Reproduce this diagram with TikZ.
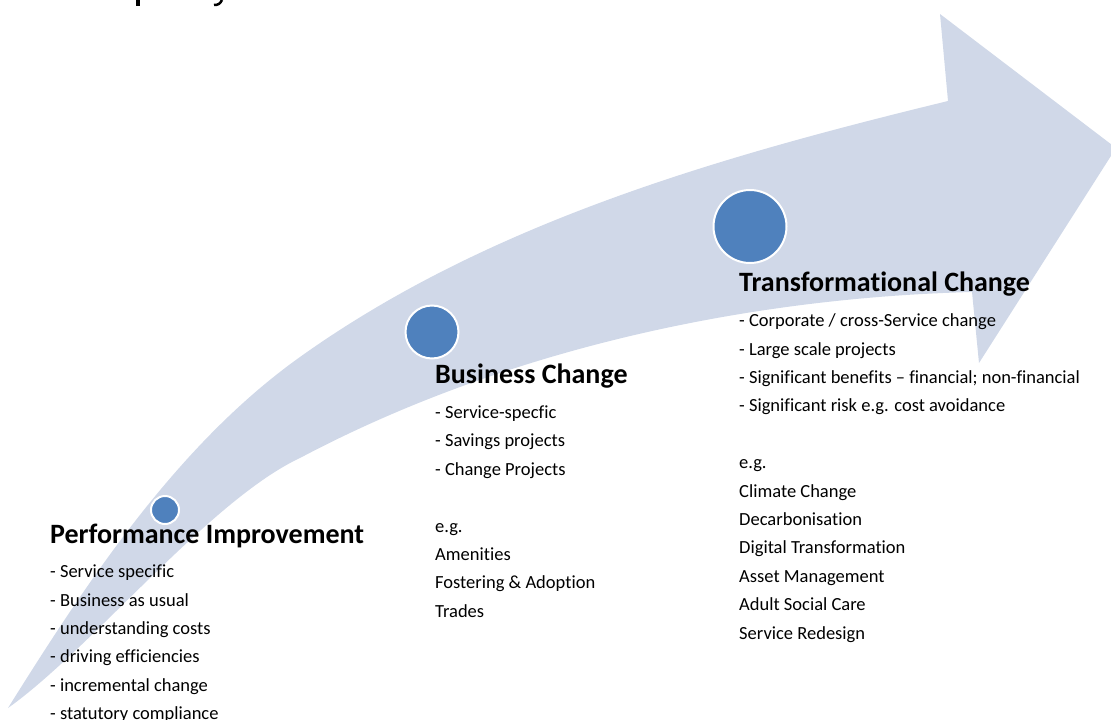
\documentclass[tikz,border=0pt]{standalone}
\usepackage{fontspec}
\setmainfont{Carlito}[Ligatures=NoCommon]
\definecolor{arrowfill}{HTML}{D0D8E8}
\definecolor{dotblue}{HTML}{4F81BD}
\tikzset{
  headtext/.style={anchor=base west, inner sep=0pt, font=\fontsize{28}{32}\selectfont\bfseries},
  bodytext/.style={anchor=base west, inner sep=0pt, font=\fontsize{18.5}{22}\selectfont},
  dot/.style={circle, fill=dotblue, draw=white, line width=2pt, inner sep=0pt},
}
\begin{document}
\begin{tikzpicture}[x=1pt, y=-1pt]
\useasboundingbox (0,0) rectangle (1111,720);
\begin{scope}
\clip (0,0) rectangle (1111,720);
% curved arrow
\fill[arrowfill] (8,708)
  .. controls (88,580) and (178,444) .. (300,357)
  .. controls (489,222) and (722,156) .. (948,101)
  -- (940,14) -- (1116,148) -- (979,363) -- (972,292)
  .. controls (740,298) and (500,352) .. (300,458)
  .. controls (210,500) and (90,650) .. (8,708) -- cycle;
% clipped title fragments at the top
\fill[black] (136,0) rectangle (139.5,6);
\draw[black, line width=2.5pt] (222,0) .. controls (220,4) and (218,5) .. (214,5);
\end{scope}

% dots
\node[dot, minimum size=28pt] (c1) at (165,510) {};
\node[dot, minimum size=53pt] (c2) at (432,332) {};
\node[dot, minimum size=73pt] (c3) at (750,226.5) {};

% Performance Improvement
\node[headtext] (pih) at (50,543) {Performance Improvement};
\node[bodytext] (pi1) at (50,577.7) {- Service specific};
\node[bodytext] (pi2) at (50,606.1) {- Business as usual};
\node[bodytext] (pi3) at (50,634.5) {- understanding costs};
\node[bodytext] (pi4) at (50,662.9) {- driving efficiencies};
\node[bodytext] (pi5) at (50,691.3) {- incremental change};
\node[bodytext] (pi6) at (50,719.7) {- statutory compliance};

% Business Change
\node[headtext] (bch) at (435,383) {Business Change};
\node[bodytext] (bc1) at (435,418.5) {- Service-specfic};
\node[bodytext] (bc2) at (435,446.9) {- Savings projects};
\node[bodytext] (bc3) at (435,475.3) {- Change Projects};
\node[bodytext] (bc4) at (435,532.1) {e.g.};
\node[bodytext] (bc5) at (435,560.5) {Amenities};
\node[bodytext] (bc6) at (435,588.9) {Fostering \& Adoption};
\node[bodytext] (bc7) at (435,617.3) {Trades};

% Transformational Change
\node[headtext] (tch) at (739,291) {Transformational Change};
\node[bodytext] (tc1) at (739,326.7) {- Corporate / cross-Service change};
\node[bodytext] (tc2) at (739,355.1) {- Large scale projects};
\node[bodytext] (tc3) at (739,383.5) {- Significant benefits – financial; non-financial};
\node[bodytext] (tc4) at (739,411.9) {- Significant risk e.g. cost avoidance};
\node[bodytext] (tc5) at (739,468.7) {e.g.};
\node[bodytext] (tc6) at (739,497.1) {Climate Change};
\node[bodytext] (tc7) at (739,525.5) {Decarbonisation};
\node[bodytext] (tc8) at (739,553.9) {Digital Transformation};
\node[bodytext] (tc9) at (739,582.3) {Asset Management};
\node[bodytext] (tc10) at (739,610.7) {Adult Social Care};
\node[bodytext] (tc11) at (739,639.1) {Service Redesign};
\end{tikzpicture}
\end{document}
